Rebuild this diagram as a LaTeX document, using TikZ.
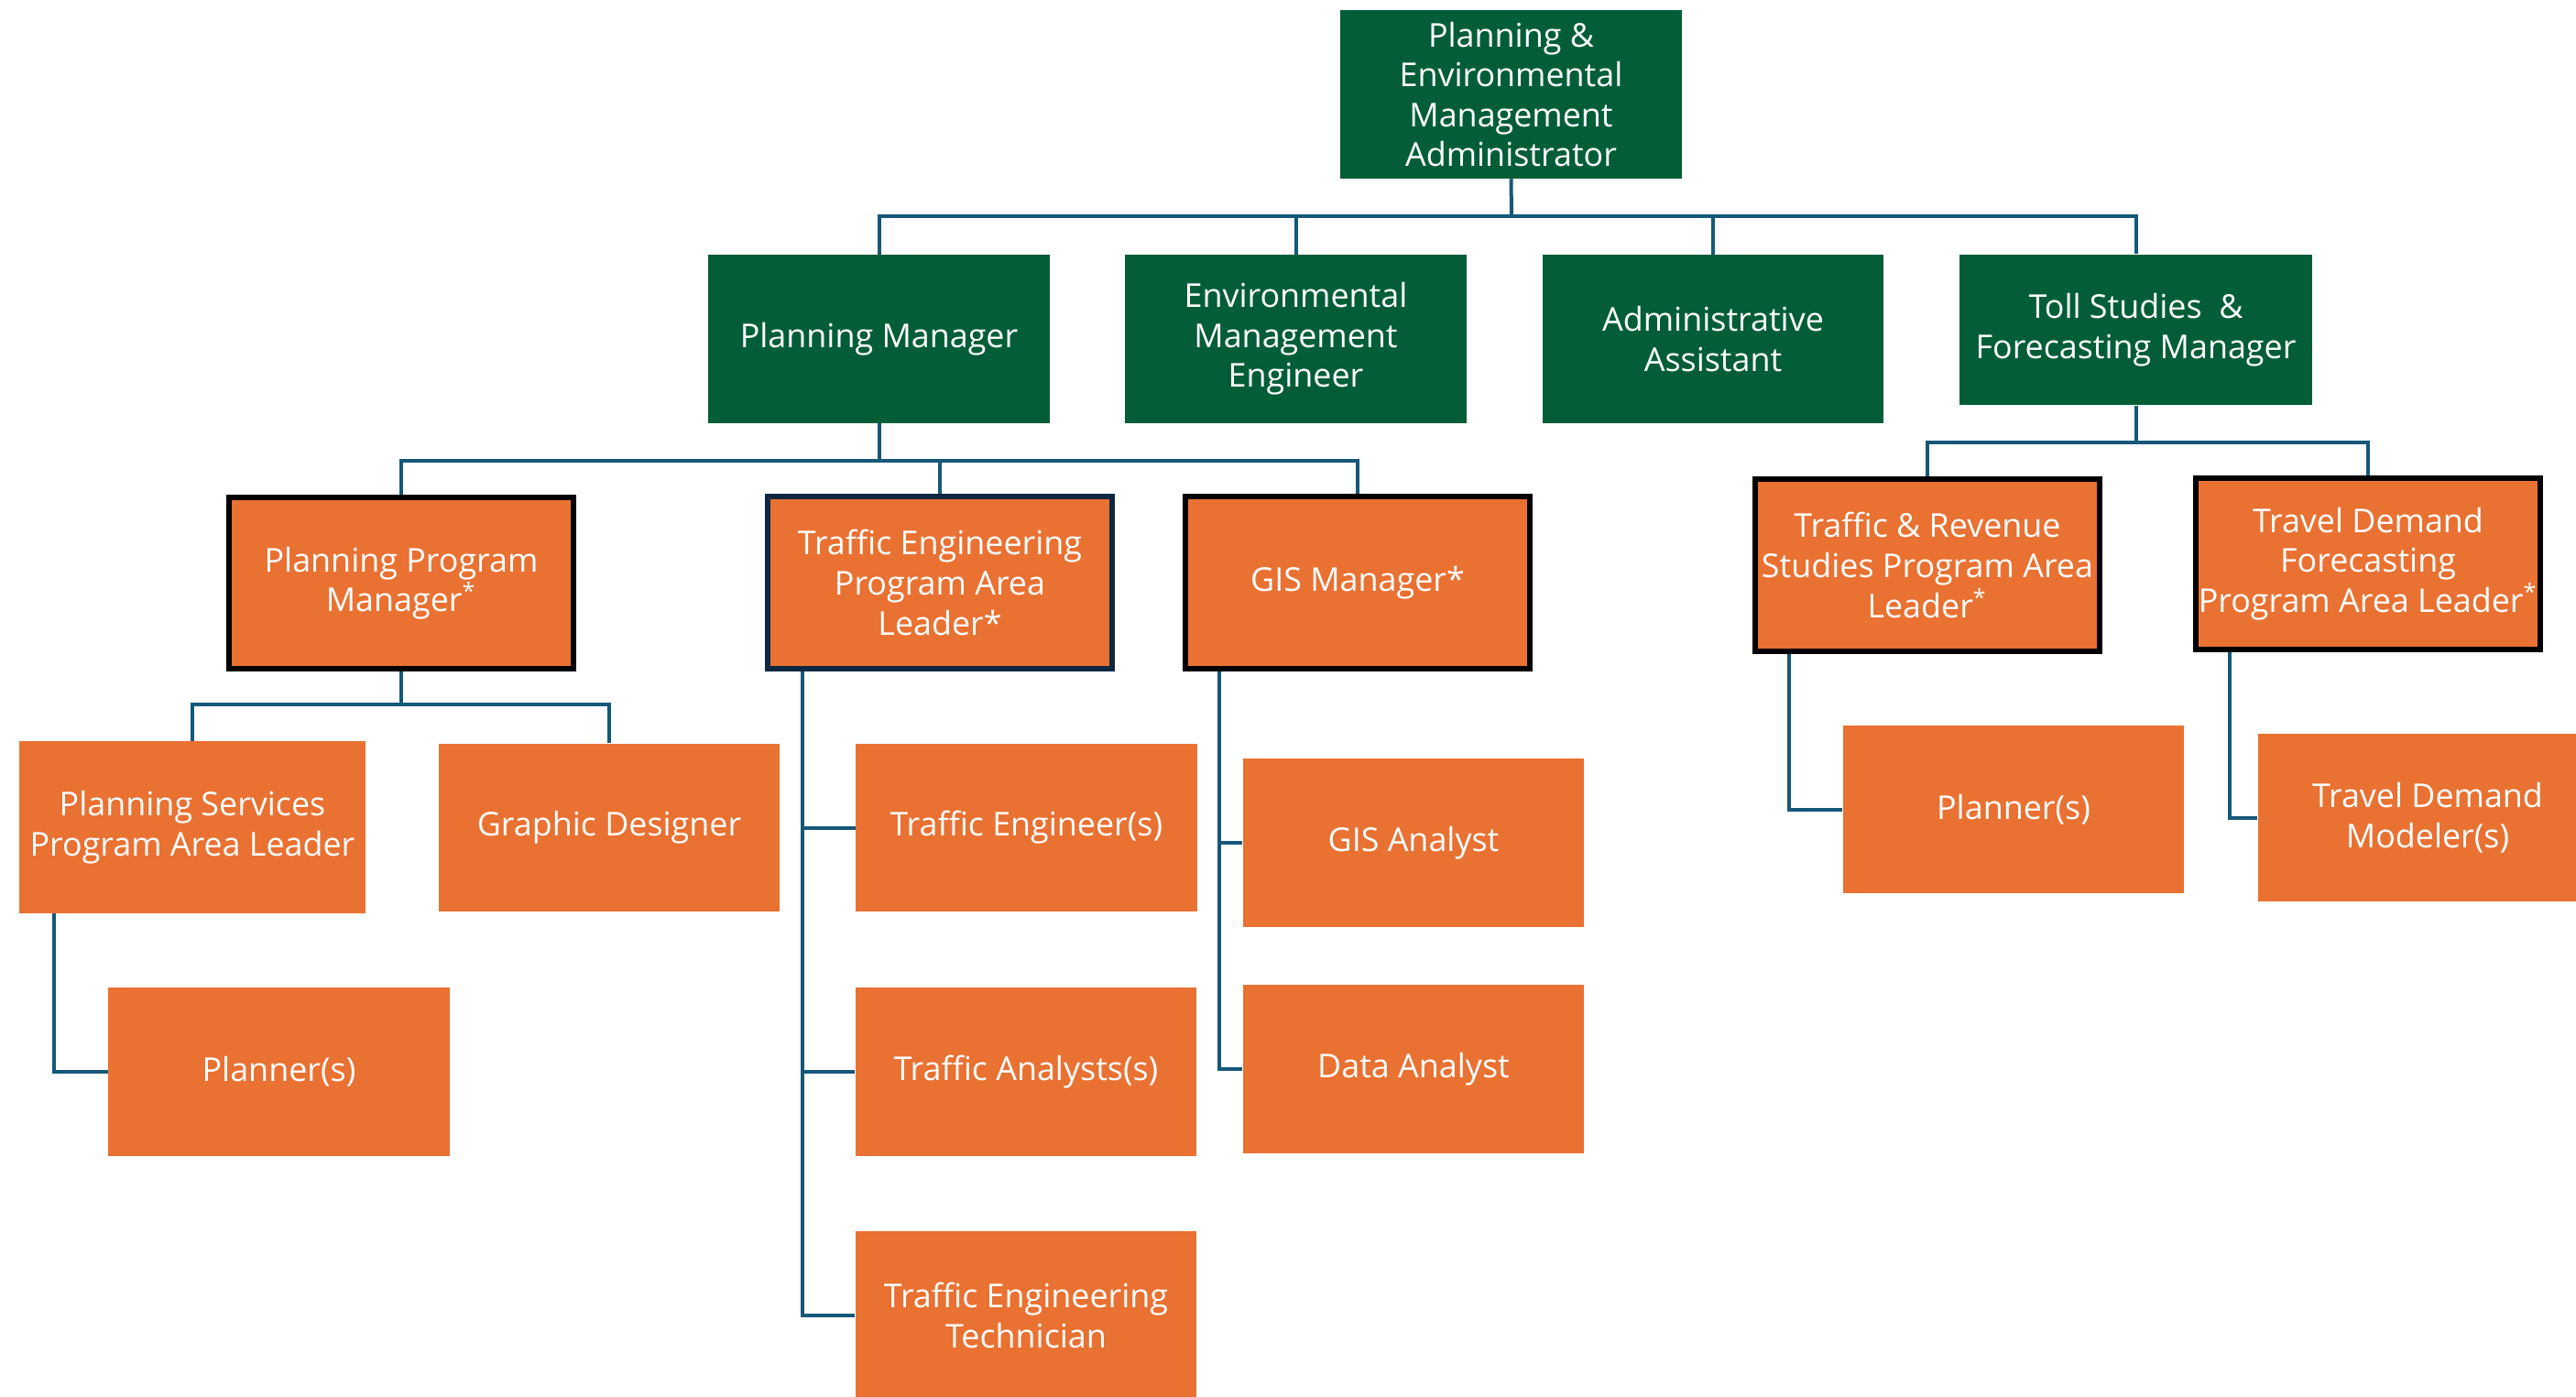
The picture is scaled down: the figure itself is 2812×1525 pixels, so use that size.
\documentclass[tikz,border=0pt]{standalone}
\usepackage{fontspec}
\setmainfont{Open Sans}
\usetikzlibrary{calc}
\definecolor{pgreen}{HTML}{035E37}
\definecolor{porange}{HTML}{E97132}
\definecolor{pline}{HTML}{16587A}
\definecolor{pnavy}{HTML}{0E2841}
\begin{document}
\begin{tikzpicture}[x=0.01cm,y=-0.01cm,
  box/.style={rectangle, inner sep=0pt, align=center, text=white, font=\fontsize{10.2pt}{12.4pt}\selectfont},
  gbox/.style={box, fill=pgreen, minimum width=3.72cm, minimum height=1.83cm},
  obox/.style={box, fill=porange, minimum width=3.72cm, minimum height=1.83cm},
  lead/.style={box, fill=porange, draw=black, line width=0.06cm, minimum width=3.76cm, minimum height=1.87cm},
  conn/.style={draw=pline, line width=0.04cm},
]
\useasboundingbox[fill=white] (0,0) rectangle (2812,1525);

% level 1 and 2
\node[gbox] (top) at (1649.5,103) {Planning \&\\Environmental\\Management\\Administrator};
\node[gbox] (pm) at (959.5,370) {Planning Manager};
\node[gbox] (env) at (1414.5,370) {Environmental\\Management\\Engineer};
\node[gbox] (admin) at (1870,370) {Administrative\\Assistant};
\node[gbox, minimum width=3.85cm, minimum height=1.64cm] (toll) at (2331.5,360) {Toll Studies\ \ \&\\Forecasting Manager};

% level 3
\node[lead] (ppm) at (438,636.5) {Planning Program\\Manager\textsuperscript{*}};
\node[lead, draw=pnavy] (tel) at (1026,636) {Traffic Engineering\\Program Area\\Leader*};
\node[lead] (gis) at (1482,636) {GIS Manager*};
\node[lead] (tr) at (2104,617) {Traffic \& Revenue\\Studies Program Area\\Leader\textsuperscript{*}};
\node[lead] (tdf) at (2585,615.5) {Travel Demand\\Forecasting\\Program Area Leader\textsuperscript{*}};

% level 4
\node[obox, minimum width=3.77cm, minimum height=1.87cm] (psl) at (210,903) {Planning Services\\Program Area Leader};
\node[obox] (gd) at (665,903.5) {Graphic Designer};
\node[obox] (pl1) at (304.5,1170) {Planner(s)};
\node[obox] (te) at (1120.4,903.5) {Traffic Engineer(s)};
\node[obox] (ta) at (1120,1170) {Traffic Analysts(s)};
\node[obox] (tech) at (1120,1436) {Traffic Engineering\\Technician};
\node[obox] (gisa) at (1543,920) {GIS Analyst};
\node[obox] (da) at (1543,1167) {Data Analyst};
\node[obox] (pl2) at (2198,883.5) {Planner(s)};
\node[obox, minimum width=3.7cm] (tdm) at (2650,892.5) {Travel Demand\\Modeler(s)};

% buses
\coordinate (b1) at (1650,236);
\coordinate (b2) at (959.5,503);
\coordinate (b3) at (2331.5,483);
\coordinate (b4) at (438,769);

\draw[conn] (top.south) -- (b1);
\draw[conn] (pm.north) |- (b1) -| (toll.north);
\draw[conn] (env.north) -- (env.north |- b1);
\draw[conn] (admin.north) -- (admin.north |- b1);

\draw[conn] (pm.south) -- (b2);
\draw[conn] (ppm.north) |- (b2) -| (gis.north);
\draw[conn] (tel.north) -- (tel.north |- b2);

\draw[conn] (toll.south) -- (b3);
\draw[conn] (tr.north) |- (b3) -| (tdf.north);

\draw[conn] (ppm.south) -- (b4);
\draw[conn] (psl.north) |- (b4) -| (gd.north);

\draw[conn] ($(psl.south west)+(38,0)$) |- (pl1.west);

\draw[conn] ($(tel.south west)+(41.5,0)$) |- (te.west);
\draw[conn] ($(tel.south west)+(41.5,0)$) |- (ta.west);
\draw[conn] ($(tel.south west)+(41.5,0)$) |- (tech.west);

\draw[conn] ($(gis.south west)+(40,0)$) |- (gisa.west);
\draw[conn] ($(gis.south west)+(40,0)$) |- (da.west);

\draw[conn] ($(tr.south west)+(40.5,0)$) |- (pl2.west);
\draw[conn] ($(tdf.south west)+(40,0)$) |- (tdm.west);
\end{tikzpicture}
\end{document}
